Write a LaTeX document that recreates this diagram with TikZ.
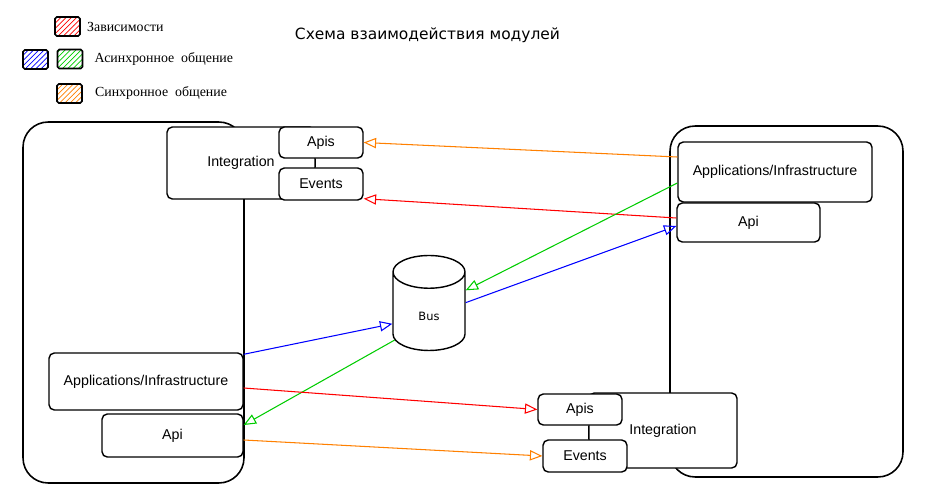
\documentclass[tikz,border=0pt]{standalone}
\usepackage{fontspec}
\setmainfont{Liberation Serif}
\setsansfont{Liberation Sans}
\newfontfamily\titlefont{DejaVu Sans}
\usepackage{tikz}
\usetikzlibrary{shapes,arrows,positioning,patterns}

\begin{document}
\begin{tikzpicture}[x=0.02cm, y=-0.02cm,
        module/.style={rectangle, draw, line width=0.9pt, rounded corners=0.5cm},
        box/.style={rectangle, draw, fill=white, line width=0.8pt, rounded corners=3pt, font=\sffamily\fontsize{8.1}{9}\selectfont},
        swatch/.style={rectangle, draw, line width=0.9pt, rounded corners=1pt, minimum width=0.5cm, minimum height=0.38cm},
        legend/.style={inner sep=0pt, font=\fontsize{7.9}{9}\selectfont},
        arrow/.style={->, >=open triangle 45, line width=0.6pt}]
    \useasboundingbox (0,0) rectangle (928,500);

    \node[swatch, pattern=north east lines, pattern color=red] (dep) at (67.5,26.5) {};
    \node[swatch, pattern=north east lines, pattern color=blue] (async1) at (35.5,59.5) {};
    \node[swatch, pattern=north east lines, pattern color=green!80!black] (async2) at (70,59) {};
    \node[swatch, pattern=north east lines, pattern color=orange] (sync) at (69.5,93.5) {};
    \node[legend, right=0.12cm of dep] {Зависимости};
    \node[legend, right=0.22cm of async2] {Асинхронное\ \ общение};
    \node[legend, right=0.24cm of sync] {Синхронное\ \ общение};

    \node[font=\titlefont\fontsize{8.8}{10}\selectfont] (title) at (427.5,35) {Схема взаимодействия модулей};

    \node[module, minimum width=4.42cm, minimum height=7.22cm] (lmod) at (133.5,302.5) {};
    \node[module, minimum width=4.66cm, minimum height=7.02cm] (rmod) at (786.5,301.5) {};

    \node[box, minimum width=2.96cm, minimum height=1.44cm] (lint) at (241,163) {Integration};
    \node[box, minimum width=1.68cm, minimum height=0.62cm] (lapis) at (321,142.5) {Apis};
    \node[box, minimum width=1.68cm, minimum height=0.64cm] (levents) at (321,184) {Events};
    \node[box, minimum width=3.88cm, minimum height=1.14cm] (lapp) at (146,381.5) {Applications/Infrastructure};
    \node[box, minimum width=2.82cm, minimum height=0.86cm] (lapi) at (172.5,435.5) {Api};

    \node[box, minimum width=3.88cm, minimum height=1.2cm] (rapp) at (775,172) {Applications/Infrastructure};
    \node[box, minimum width=2.86cm, minimum height=0.78cm] (rapi) at (748.5,222.5) {Api};
    \node[box, minimum width=2.96cm, minimum height=1.5cm] (rint) at (663,430.5) {Integration};
    \node[box, minimum width=1.68cm, minimum height=0.62cm] (rapis) at (580,409.5) {Apis};
    \node[box, minimum width=1.68cm, minimum height=0.64cm] (revents) at (585,456) {Events};

    \node[cylinder, shape border rotate=90, aspect=1, draw, fill=white, line width=0.8pt,
        minimum width=1.44cm, minimum height=1.9cm, font=\titlefont\fontsize{6.5}{8}\selectfont] (bus) at (429,316) {Bus};

    \draw[line width=0.8pt] (lapis.south -| lint.east) -- (levents.north -| lint.east);
    \draw[line width=0.8pt] (rapis.south -| rint.west) -- (revents.north -| rint.west);

    \draw[arrow, orange] ([yshift=0.3cm]rapp.west) -- (lapis.east);
    \draw[arrow, red] ([yshift=0.09cm]rapi.west) -- ([yshift=0.04cm]levents.south east);
    \draw[arrow, green!80!black] ([yshift=-0.22cm]rapp.west) -- (bus.35);
    \draw[arrow, blue] (bus.20) -- ([yshift=-0.07cm]rapi.west);
    \draw[arrow, blue] ([yshift=-0.04cm]lapp.north east) -- (bus.192);
    \draw[arrow, green!80!black] (bus.215) -- ([yshift=0.21cm]lapi.east);
    \draw[arrow, red] ([yshift=-0.13cm]lapp.east) -- (rapis.west);
    \draw[arrow, orange] ([yshift=-0.09cm]lapi.east) -- (revents.west);
\end{tikzpicture}
\end{document}
